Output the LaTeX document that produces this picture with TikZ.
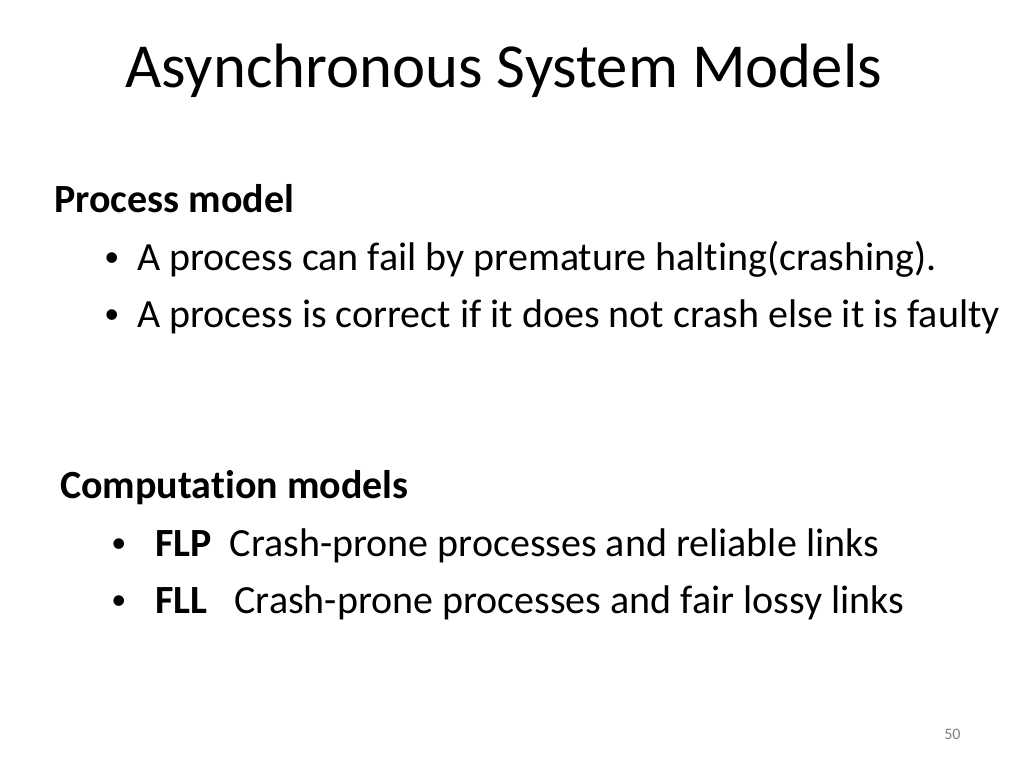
\documentclass[tikz,border=0pt]{standalone}
\usepackage{fontspec}
\setmainfont{Carlito}[RawFeature={-liga;-dlig}]
\usetikzlibrary{positioning}
\tikzset{
  txt/.style={anchor=base west, inner sep=0pt, font=\fontsize{30}{36}\selectfont},
  head/.style={txt, font=\fontsize{30}{36}\selectfont\bfseries},
  dot/.style={anchor=base west, inner sep=0pt, font=\fontsize{30}{36}\selectfont}
}
\newcommand{\blt}{\raisebox{0.08em}{\scalebox{0.75}{\textbullet}}}
\begin{document}
\begin{tikzpicture}[x=0.75pt,y=-0.75pt]
\useasboundingbox (0,0) rectangle (1024,768);

% title
\node (title) [anchor=base west, inner sep=0pt, font=\fontsize{47}{56}\selectfont] at (125,87) {Asynchronous System Models};

% process model
\node (proc) [head] at (54,212) {Process model};
\node (b1) [dot] at (104,270) {\blt};
\node (p1) [txt] at (137,270) {A process can fail by premature halting(crashing).};
\node (b2) [dot] at (104,327) {\blt};
\node (p2) [txt] at (137,327) {A process is correct if it does not crash else it is faulty};

% computation models
\node (comp) [head] at (60,498) {Computation models};
\node (b3) [dot] at (111,556) {\blt};
\node (c1) [txt] at (155,556) {\textbf{FLP}\ \ Crash-prone processes and reliable links};
\node (b4) [dot] at (111,613) {\blt};
\node (c2) [txt] at (155,613) {\textbf{FLL}\ \ \ Crash-prone processes and fair lossy links};

% page number
\node (num) [anchor=base west, inner sep=0pt, text=black!50, font=\fontsize{12}{14}\selectfont] at (944,739) {50};
\end{tikzpicture}
\end{document}
